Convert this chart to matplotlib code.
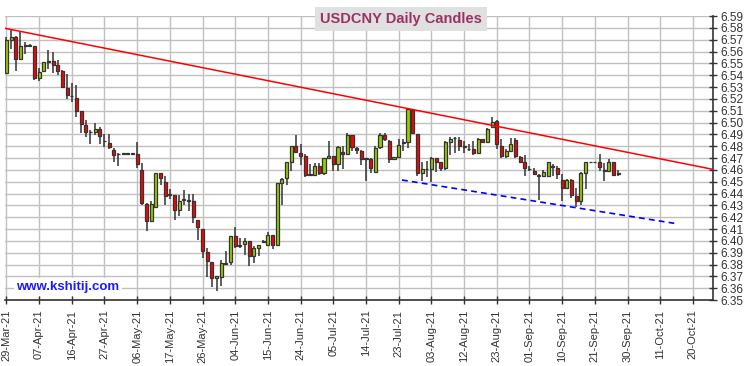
import numpy as np
import pandas as pd
import matplotlib
matplotlib.use("Agg")
import matplotlib.pyplot as plt

plt.rcParams['font.family'] = ['Liberation Sans', 'DejaVu Sans']

# daily OHLC, USDCNY, one row per weekday starting 29-Mar-21
opens = [6.5416, 6.5700, 6.5720, 6.5534, 6.5650, 6.5650, 6.5647, 6.5374, 6.5433, 6.5510,
         6.5520, 6.5484, 6.5436, 6.5293, 6.5220, 6.5205, 6.5096, 6.4980, 6.4916, 6.4916,
         6.4944, 6.4840, 6.4825, 6.4770, 6.4733, 6.4735, 6.4735, 6.4735, 6.4735, 6.4600,
         6.4311, 6.4164, 6.4290, 6.4573, 6.4500, 6.4390, 6.4390, 6.4263, 6.4347, 6.4338,
         6.4339, 6.4178, 6.4100, 6.3905, 6.3822, 6.3686, 6.3694, 6.3805, 6.3817, 6.4043,
         6.3956, 6.3970, 6.4001, 6.3872, 6.3939, 6.3990, 6.3968, 6.4047, 6.3968, 6.4488,
         6.4530, 6.4666, 6.4805, 6.4741, 6.4718, 6.4558, 6.4558, 6.4634, 6.4572, 6.4696,
         6.4718, 6.4648, 6.4749, 6.4732, 6.4896, 6.4788, 6.4761, 6.4691, 6.4691, 6.4578,
         6.4797, 6.4896, 6.4845, 6.4691, 6.4708, 6.4826, 6.4831, 6.5107, 6.4900, 6.4573,
         6.4606, 6.4606, 6.4699, 6.4662, 6.4615, 6.4831, 6.4868, 6.4848, 6.4797, 6.4775,
         6.4775, 6.4746, 6.4859, 6.4839, 6.4958, 6.5010, 6.4803, 6.4713, 6.4763, 6.4853,
         6.4708, 6.4662, 6.4606, 6.4592, 6.4558, 6.4544, 6.4544, 6.4627, 6.4615, 6.4510,
         6.4445, 6.4516, 6.4381, 6.4333, 6.4575, 6.4662, 6.4662, 6.4662, 6.4594, 6.4594,
         6.4662, 6.4567]
highs = [6.5725, 6.5787, 6.5728, 6.5768, 6.5680, 6.5665, 6.5650, 6.5458, 6.5515, 6.5613,
         6.5600, 6.5530, 6.5440, 6.5410, 6.5332, 6.5318, 6.5100, 6.5022, 6.4938, 6.4994,
         6.4958, 6.4900, 6.4900, 6.4785, 6.4740, 6.4735, 6.4735, 6.4735, 6.4837, 6.4657,
         6.4320, 6.4333, 6.4573, 6.4573, 6.4550, 6.4437, 6.4390, 6.4390, 6.4430, 6.4400,
         6.4398, 6.4180, 6.4100, 6.3940, 6.3822, 6.3700, 6.3841, 6.3911, 6.4043, 6.4120,
         6.4024, 6.4024, 6.4001, 6.3955, 6.3967, 6.4010, 6.4075, 6.4047, 6.4488, 6.4530,
         6.4666, 6.4805, 6.4896, 6.4820, 6.4730, 6.4651, 6.4657, 6.4657, 6.4700, 6.4845,
         6.4720, 6.4800, 6.4805, 6.4910, 6.4896, 6.4795, 6.4765, 6.4700, 6.4700, 6.4800,
         6.4910, 6.4910, 6.4850, 6.4712, 6.4859, 6.4859, 6.5113, 6.5113, 6.4905, 6.4662,
         6.4678, 6.4710, 6.4700, 6.4670, 6.4840, 6.4876, 6.4880, 6.4876, 6.4840, 6.4820,
         6.4840, 6.4865, 6.4859, 6.4950, 6.5045, 6.5020, 6.4860, 6.4780, 6.4870, 6.4870,
         6.4713, 6.4727, 6.4633, 6.4615, 6.4565, 6.4600, 6.4670, 6.4650, 6.4630, 6.4567,
         6.4520, 6.4525, 6.4445, 6.4584, 6.4670, 6.4662, 6.4662, 6.4735, 6.4657, 6.4691,
         6.4670, 6.4600]
lows = [6.5410, 6.5620, 6.5439, 6.5534, 6.5577, 6.5640, 6.5360, 6.5354, 6.5433, 6.5450,
        6.5422, 6.5402, 6.5295, 6.5197, 6.5177, 6.5045, 6.4910, 6.4876, 6.4817, 6.4896,
        6.4817, 6.4790, 6.4780, 6.4665, 6.4630, 6.4735, 6.4735, 6.4735, 6.4615, 6.4300,
        6.4080, 6.4160, 6.4280, 6.4474, 6.4305, 6.4353, 6.4178, 6.4212, 6.4305, 6.4255,
        6.4150, 6.4010, 6.3855, 6.3695, 6.3607, 6.3575, 6.3616, 6.3793, 6.3800, 6.3937,
        6.3940, 6.3884, 6.3788, 6.3813, 6.3870, 6.3985, 6.3968, 6.3934, 6.3968, 6.4300,
        6.4474, 6.4586, 6.4749, 6.4637, 6.4540, 6.4544, 6.4545, 6.4560, 6.4560, 6.4690,
        6.4586, 6.4586, 6.4609, 6.4732, 6.4763, 6.4735, 6.4643, 6.4502, 6.4573, 6.4578,
        6.4780, 6.4840, 6.4657, 6.4680, 6.4700, 6.4760, 6.4787, 6.4900, 6.4550, 6.4502,
        6.4542, 6.4500, 6.4580, 6.4590, 6.4600, 6.4727, 6.4740, 6.4760, 6.4740, 6.4760,
        6.4725, 6.4740, 6.4830, 6.4830, 6.4950, 6.4780, 6.4700, 6.4700, 6.4760, 6.4700,
        6.4660, 6.4544, 6.4590, 6.4560, 6.4345, 6.4540, 6.4540, 6.4550, 6.4520, 6.4333,
        6.4440, 6.4362, 6.4290, 6.4305, 6.4439, 6.4662, 6.4662, 6.4590, 6.4502, 6.4594,
        6.4550, 6.4550]
closes = [6.5695, 6.5720, 6.5534, 6.5647, 6.5650, 6.5650, 6.5374, 6.5427, 6.5512, 6.5518,
          6.5490, 6.5439, 6.5298, 6.5230, 6.5220, 6.5100, 6.4986, 6.4916, 6.4916, 6.4944,
          6.4890, 6.4840, 6.4792, 6.4724, 6.4733, 6.4735, 6.4735, 6.4735, 6.4648, 6.4320,
          6.4164, 6.4310, 6.4573, 6.4530, 6.4375, 6.4390, 6.4263, 6.4340, 6.4347, 6.4338,
          6.4198, 6.4114, 6.3910, 6.3826, 6.3686, 6.3700, 6.3812, 6.3805, 6.4042, 6.3953,
          6.3956, 6.3998, 6.3875, 6.3937, 6.3967, 6.3990, 6.4047, 6.3968, 6.4488, 6.4524,
          6.4666, 6.4805, 6.4749, 6.4721, 6.4558, 6.4558, 6.4634, 6.4572, 6.4696, 6.4718,
          6.4648, 6.4791, 6.4732, 6.4896, 6.4791, 6.4767, 6.4691, 6.4691, 6.4615, 6.4788,
          6.4896, 6.4859, 6.4691, 6.4708, 6.4811, 6.4826, 6.5113, 6.4915, 6.4573, 6.4607,
          6.4606, 6.4699, 6.4670, 6.4615, 6.4831, 6.4859, 6.4868, 6.4803, 6.4797, 6.4775,
          6.4746, 6.4859, 6.4839, 6.4944, 6.5005, 6.4815, 6.4713, 6.4763, 6.4820, 6.4713,
          6.4670, 6.4615, 6.4606, 6.4567, 6.4544, 6.4583, 6.4665, 6.4627, 6.4567, 6.4445,
          6.4510, 6.4384, 6.4333, 6.4570, 6.4662, 6.4662, 6.4662, 6.4628, 6.4594, 6.4662,
          6.4556, 6.4567]

# trend lines (x in trading-day index)
resist_x = [-0.3, 151.3]
resist_y = [6.5796, 6.4604]
support_x = [84.7, 143.0]
support_y = [6.4514, 6.4148]

start_date = '2021-03-29'
tick_step = 7
n_axis_days = 152

o = np.array(opens); h = np.array(highs); l = np.array(lows); c = np.array(closes)
x = np.arange(len(o))
up = c >= o

fig = plt.figure(figsize=(7.5, 3.66), dpi=100)
ax = fig.add_axes([5/750, 66/366, 708/750, 284/366])

ax.vlines(x, l, h, color='#333333', lw=1.1, zorder=2)
body_lo = np.minimum(o, c)
body_h = np.maximum(np.abs(c - o), 0.0005)
ax.bar(x, body_h, bottom=body_lo, width=0.66,
       color=np.where(up, '#99cc00', '#ff0000'),
       edgecolor='#333333', linewidth=0.9, zorder=3)

ax.plot(resist_x, resist_y, color='#ff0000', lw=1.1, zorder=4)
ax.plot(support_x, support_y, color='#0000ff', lw=1.2, ls=(0, (3.5, 2.5)), zorder=4)

dates = pd.bdate_range(start_date, periods=n_axis_days)
ticks = np.arange(0, n_axis_days - 1, tick_step)
ax.set_xticks(ticks)
ax.set_xticklabels([dates[t].strftime('%d-%b-%y') for t in ticks],
                   rotation=90, fontsize=8, color='#333333')
ax.set_xlim(-0.3, 151.3)

ax.set_ylim(6.35, 6.59)
ax.set_yticks(np.round(np.arange(6.35, 6.595, 0.01), 2))
ax.yaxis.set_major_formatter(matplotlib.ticker.FormatStrFormatter('%.2f'))
ax.yaxis.tick_right()
ax.tick_params(axis='y', labelsize=8.5, labelcolor='#333333', direction='inout',
               length=6, width=1, color='#333333', pad=2)
ax.tick_params(axis='x', direction='inout', length=6, width=1, color='#333333', pad=4)

ax.grid(True, color='#c0c0c0', lw=1, zorder=0)
ax.set_axisbelow(True)
for s in ['left', 'top']:
    ax.spines[s].set_visible(False)
for s in ['right', 'bottom']:
    ax.spines[s].set_color('#333333')
    ax.spines[s].set_linewidth(1.2)

fig.text(401/750, 1 - 19/366, 'USDCNY Daily Candles', ha='center', va='center',
         fontsize=10.5, fontweight='bold', color='#993366',
         bbox=dict(boxstyle='square,pad=0.35', fc='#e0e0e0', ec='none'))
fig.text(68/750, 1 - 287/366, 'www.kshitij.com', ha='center', va='center',
         fontsize=9.5, fontweight='bold', color='#1a1aff',
         bbox=dict(boxstyle='square,pad=0.2', fc='white', ec='none'))

fig.savefig('out.png', dpi=100)
